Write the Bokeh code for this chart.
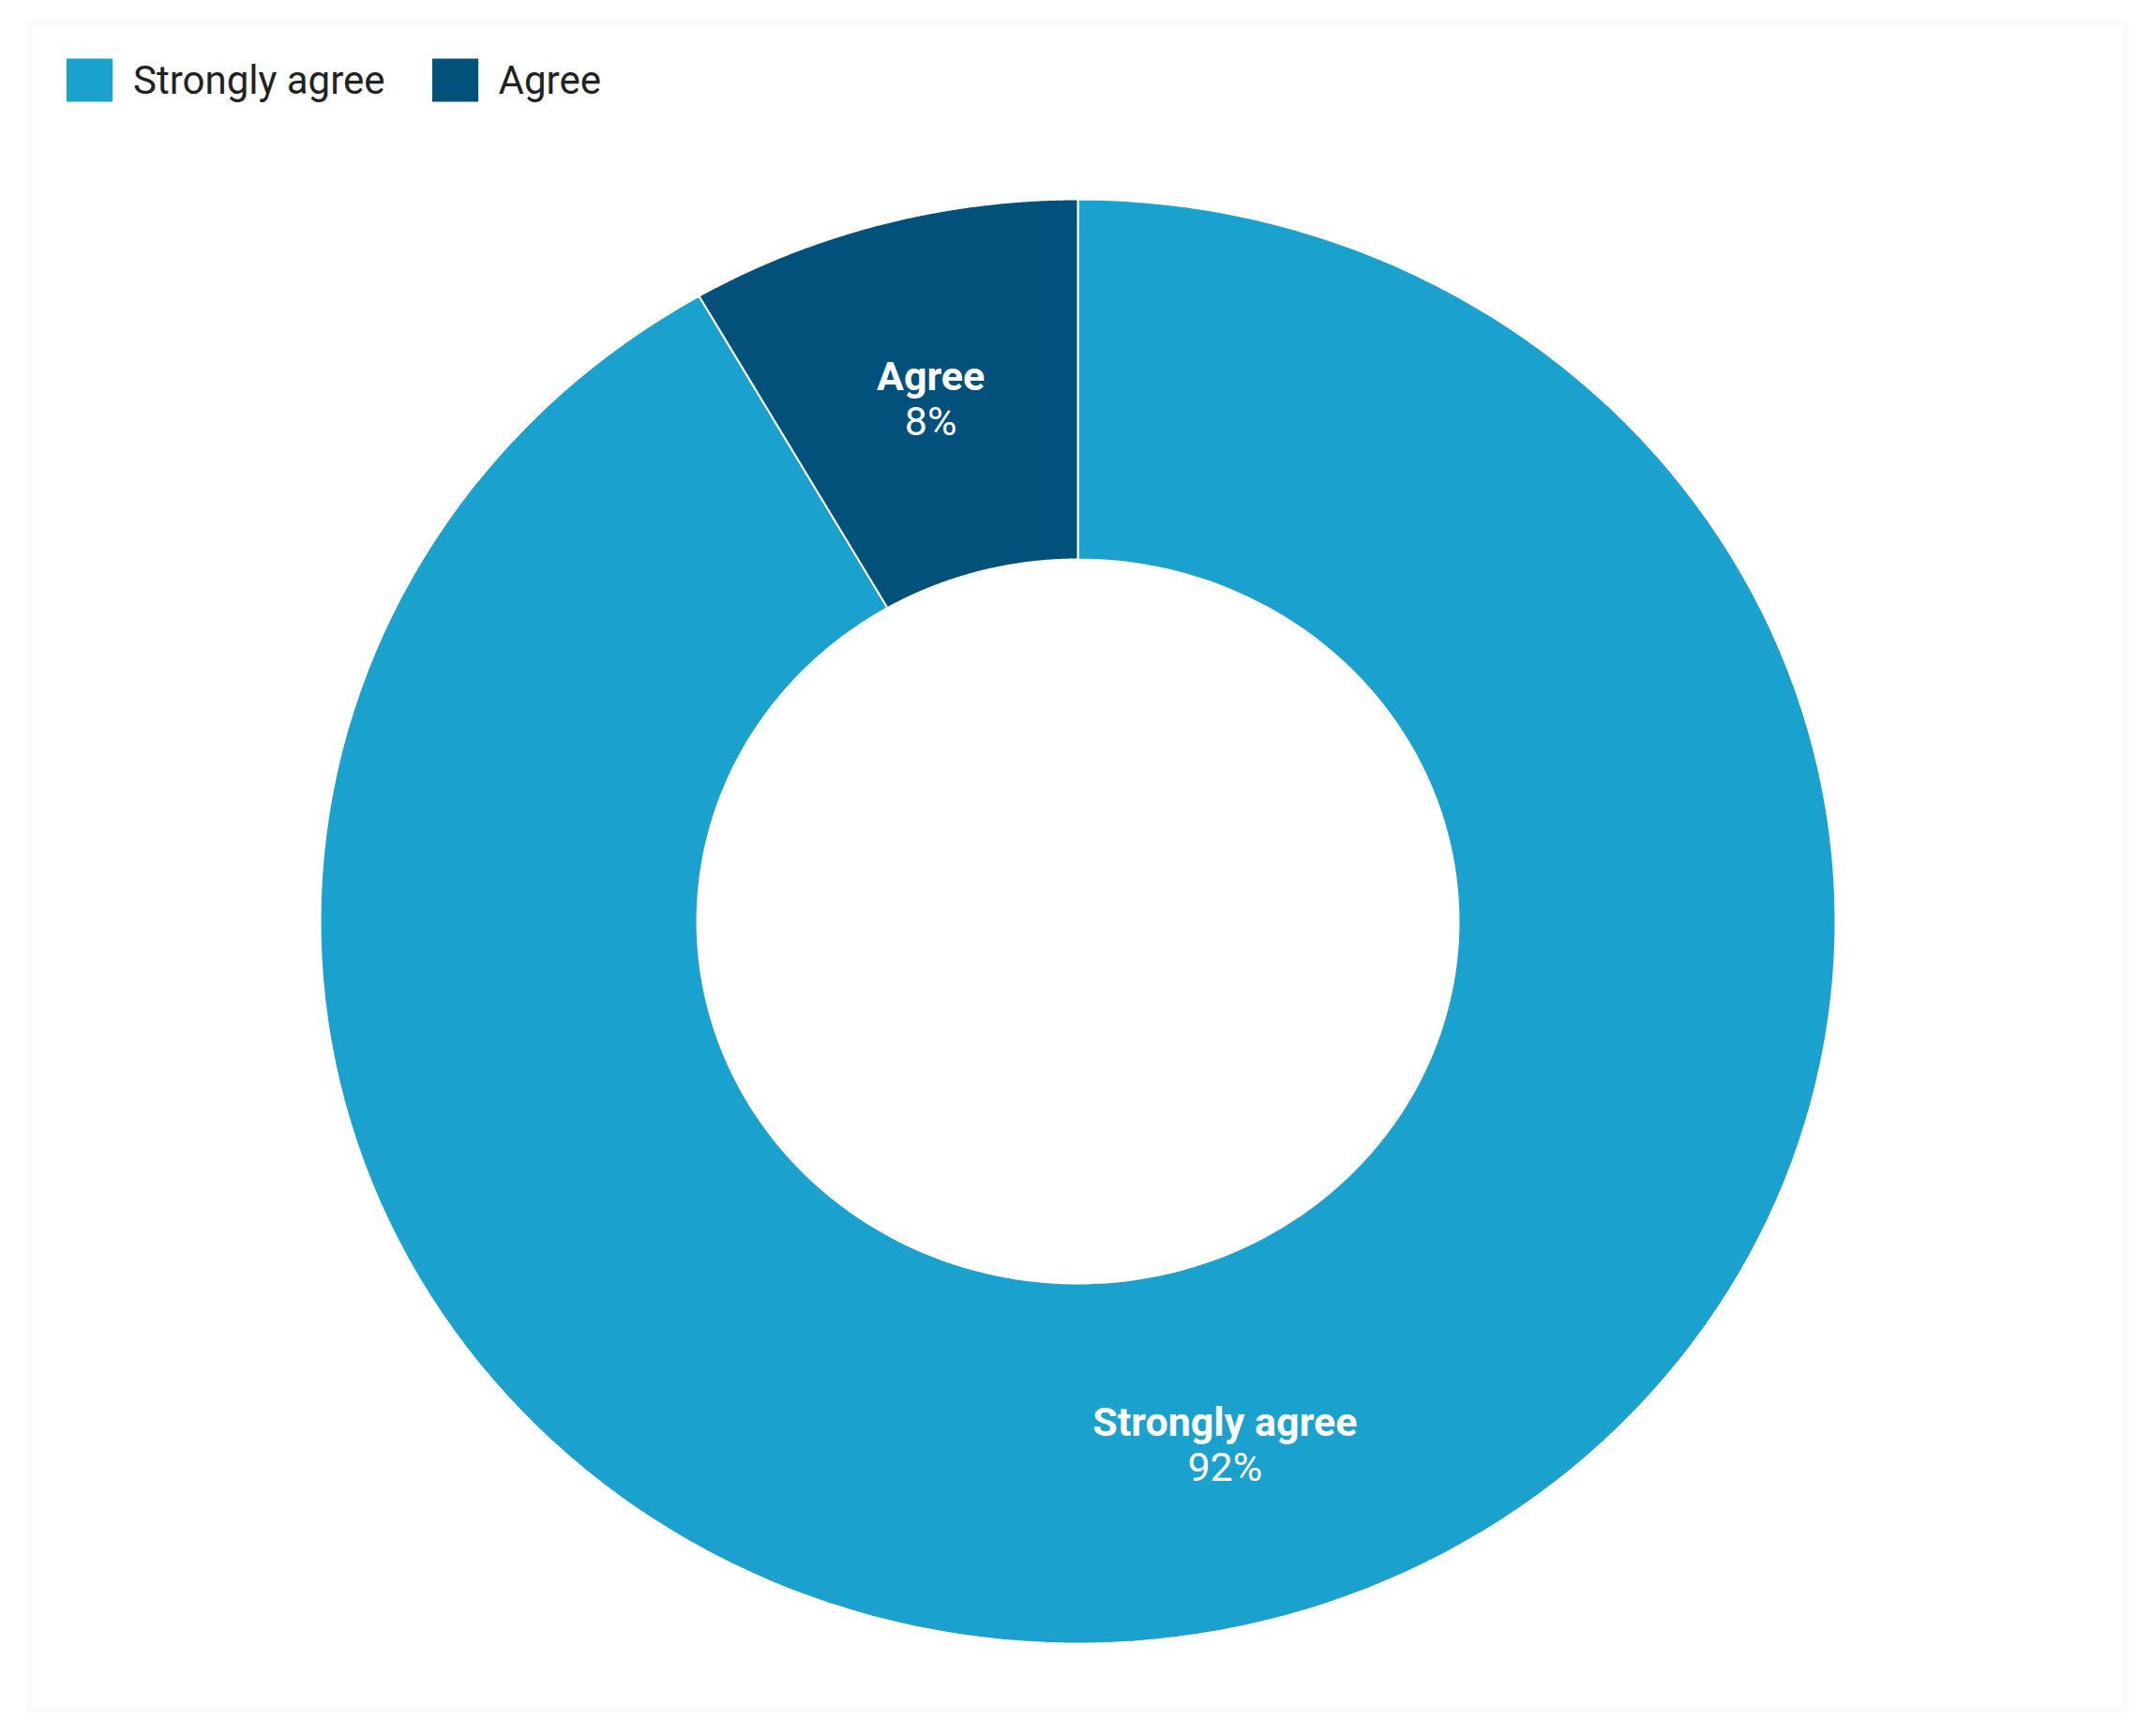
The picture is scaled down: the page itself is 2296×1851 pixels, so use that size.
import numpy as np
from bokeh.plotting import figure
from bokeh.models import Range1d, Legend, LegendItem, BoxAnnotation, ColumnDataSource
from bokeh.core.properties import value
from bokeh.embed import file_html
from bokeh.resources import INLINE

# ---- data ----
categories = ["Strongly agree", "Agree"]
counts = [11, 1]
colors = ["#1AA1CD", "#02517A"]

# ---- layout (page pixel space) ----
W, H = 2280, 1835
cx, cy = 1149, 982
rxo, ryo = 808, 770
rxi, ryi = 406, 386
FONT = "Roboto"

p = figure(width=W, height=H, output_backend="svg", toolbar_location=None,
           x_range=Range1d(0, W), y_range=Range1d(H, 0), min_border=0)
p.axis.visible = False
p.xgrid.visible = False
p.ygrid.visible = False
p.outline_line_color = None
p.background_fill_color = "white"
p.border_fill_color = "white"

# outer frame
p.add_layout(BoxAnnotation(left=30.5, right=2266.5, top=24.5, bottom=1822.5,
                           fill_alpha=0, line_color="#F0F0F0", line_width=7))

total = float(sum(counts))
fracs = [c / total for c in counts]
starts = np.cumsum([0] + fracs[:-1])

renderers = []
label_x, label_y, names, pcts = [], [], [], []
for cat, f, s, col in zip(categories, fracs, starts, colors):
    a0, a1 = 2 * np.pi * s, 2 * np.pi * (s + f)
    t = np.linspace(a0, a1, 200)
    xs = np.concatenate([cx + rxo * np.sin(t), cx + rxi * np.sin(t[::-1])])
    ys = np.concatenate([cy - ryo * np.cos(t), cy - ryi * np.cos(t[::-1])])
    src = ColumnDataSource(dict(xs=[list(xs)], ys=[list(ys)]))
    r = p.patches("xs", "ys", source=src, fill_color=col, line_color="white", line_width=2)
    renderers.append(r)
    am = (a0 + a1) / 2
    label_x.append(cx + 0.75 * rxo * np.sin(am))
    label_y.append(cy - 0.75 * ryo * np.cos(am))
    names.append(cat)
    pcts.append(f"{round(f * 100)}%")

lsrc = ColumnDataSource(dict(x=label_x, y=label_y, name=names, pct=pcts))
p.text("x", "y", text="name", source=lsrc, text_color="white", text_align="center",
       text_baseline="middle", text_font=value(FONT), text_font_style="bold",
       text_font_size="43px", y_offset=-24)
p.text("x", "y", text="pct", source=lsrc, text_color="white", text_align="center",
       text_baseline="middle", text_font=value(FONT), text_font_size="43px", y_offset=24)

legend = Legend(items=[LegendItem(label=c, renderers=[r]) for c, r in zip(categories, renderers)],
                orientation="horizontal", location=(63, H - 55 - 60),
                glyph_width=64, glyph_height=60, label_standoff=15, spacing=42,
                padding=0, margin=0, border_line_color=None, background_fill_alpha=0,
                label_text_font=FONT, label_text_font_size="42px", label_text_color="#222222",
                label_height=60)
p.add_layout(legend, "center")

open("out.html", "w").write(file_html(p, INLINE))
